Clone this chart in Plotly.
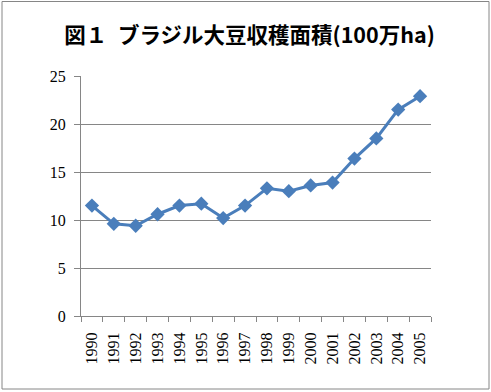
import plotly.graph_objects as go

years = [str(y) for y in range(1990, 2006)]
area = [11.5, 9.6, 9.4, 10.6, 11.5, 11.7, 10.2, 11.5, 13.3, 13.0, 13.6, 13.9, 16.4, 18.5, 21.5, 22.9]
y_ticks = [0, 5, 10, 15, 20, 25]
title_text = "図１&#8194;ブラジル大豆収穫面積(100万ha)"

W, H = 491, 392
L, R, T, B = 81, 60, 76, 76
pw, ph = W - L - R, H - T - B

def px_to_paper_x(px):
    return (px - L) / pw

def px_to_paper_y(py):
    return (H - B - py) / ph

fig = go.Figure(go.Scatter(
    x=years, y=area, mode="lines+markers",
    line=dict(color="#4a7ebb", width=3),
    marker=dict(symbol="diamond", size=11, color="#4a7ebb", line=dict(color="#4a7ebb", width=0)),
    cliponaxis=False,
))

fig.update_layout(
    width=W, height=H,
    margin=dict(l=L, r=R, t=T, b=B, autoexpand=False),
    paper_bgcolor="white", plot_bgcolor="white",
    showlegend=False,
    title=dict(text="<b>" + title_text + "</b>", x=249.5 / W, xref="container", xanchor="center",
               y=1 - 35 / H, yanchor="middle",
               font=dict(family="Noto Sans CJK JP", size=21.5, color="black")),
    xaxis=dict(type="category", showgrid=False, showline=True, linecolor="#868686", linewidth=1,
               ticks="outside", tickson="boundaries", ticklen=5, tickcolor="#868686",
               tickangle=-90, ticklabelstandoff=9,
               tickfont=dict(family="Liberation Serif", size=16, color="black"),
               range=[-0.5, len(years) - 0.5], automargin=False),
    yaxis=dict(range=[0, 25], tickvals=y_ticks, showgrid=True, gridcolor="#868686", gridwidth=1,
               showline=True, linecolor="#868686", linewidth=1, ticks="outside", ticklen=6,
               tickcolor="#868686", zeroline=False, automargin=False, ticklabelstandoff=5,
               tickfont=dict(family="Liberation Serif", size=16, color="black")),
    shapes=[dict(type="rect", xref="paper", yref="paper",
                 x0=px_to_paper_x(2), x1=px_to_paper_x(489),
                 y0=px_to_paper_y(389), y1=px_to_paper_y(1.5),
                 line=dict(color="#868686", width=1), fillcolor="rgba(0,0,0,0)", layer="below")],
)

fig.write_html("out.html", config={"displayModeBar": False},
               post_script="document.body.style.margin='0';document.body.style.overflow='hidden';")
